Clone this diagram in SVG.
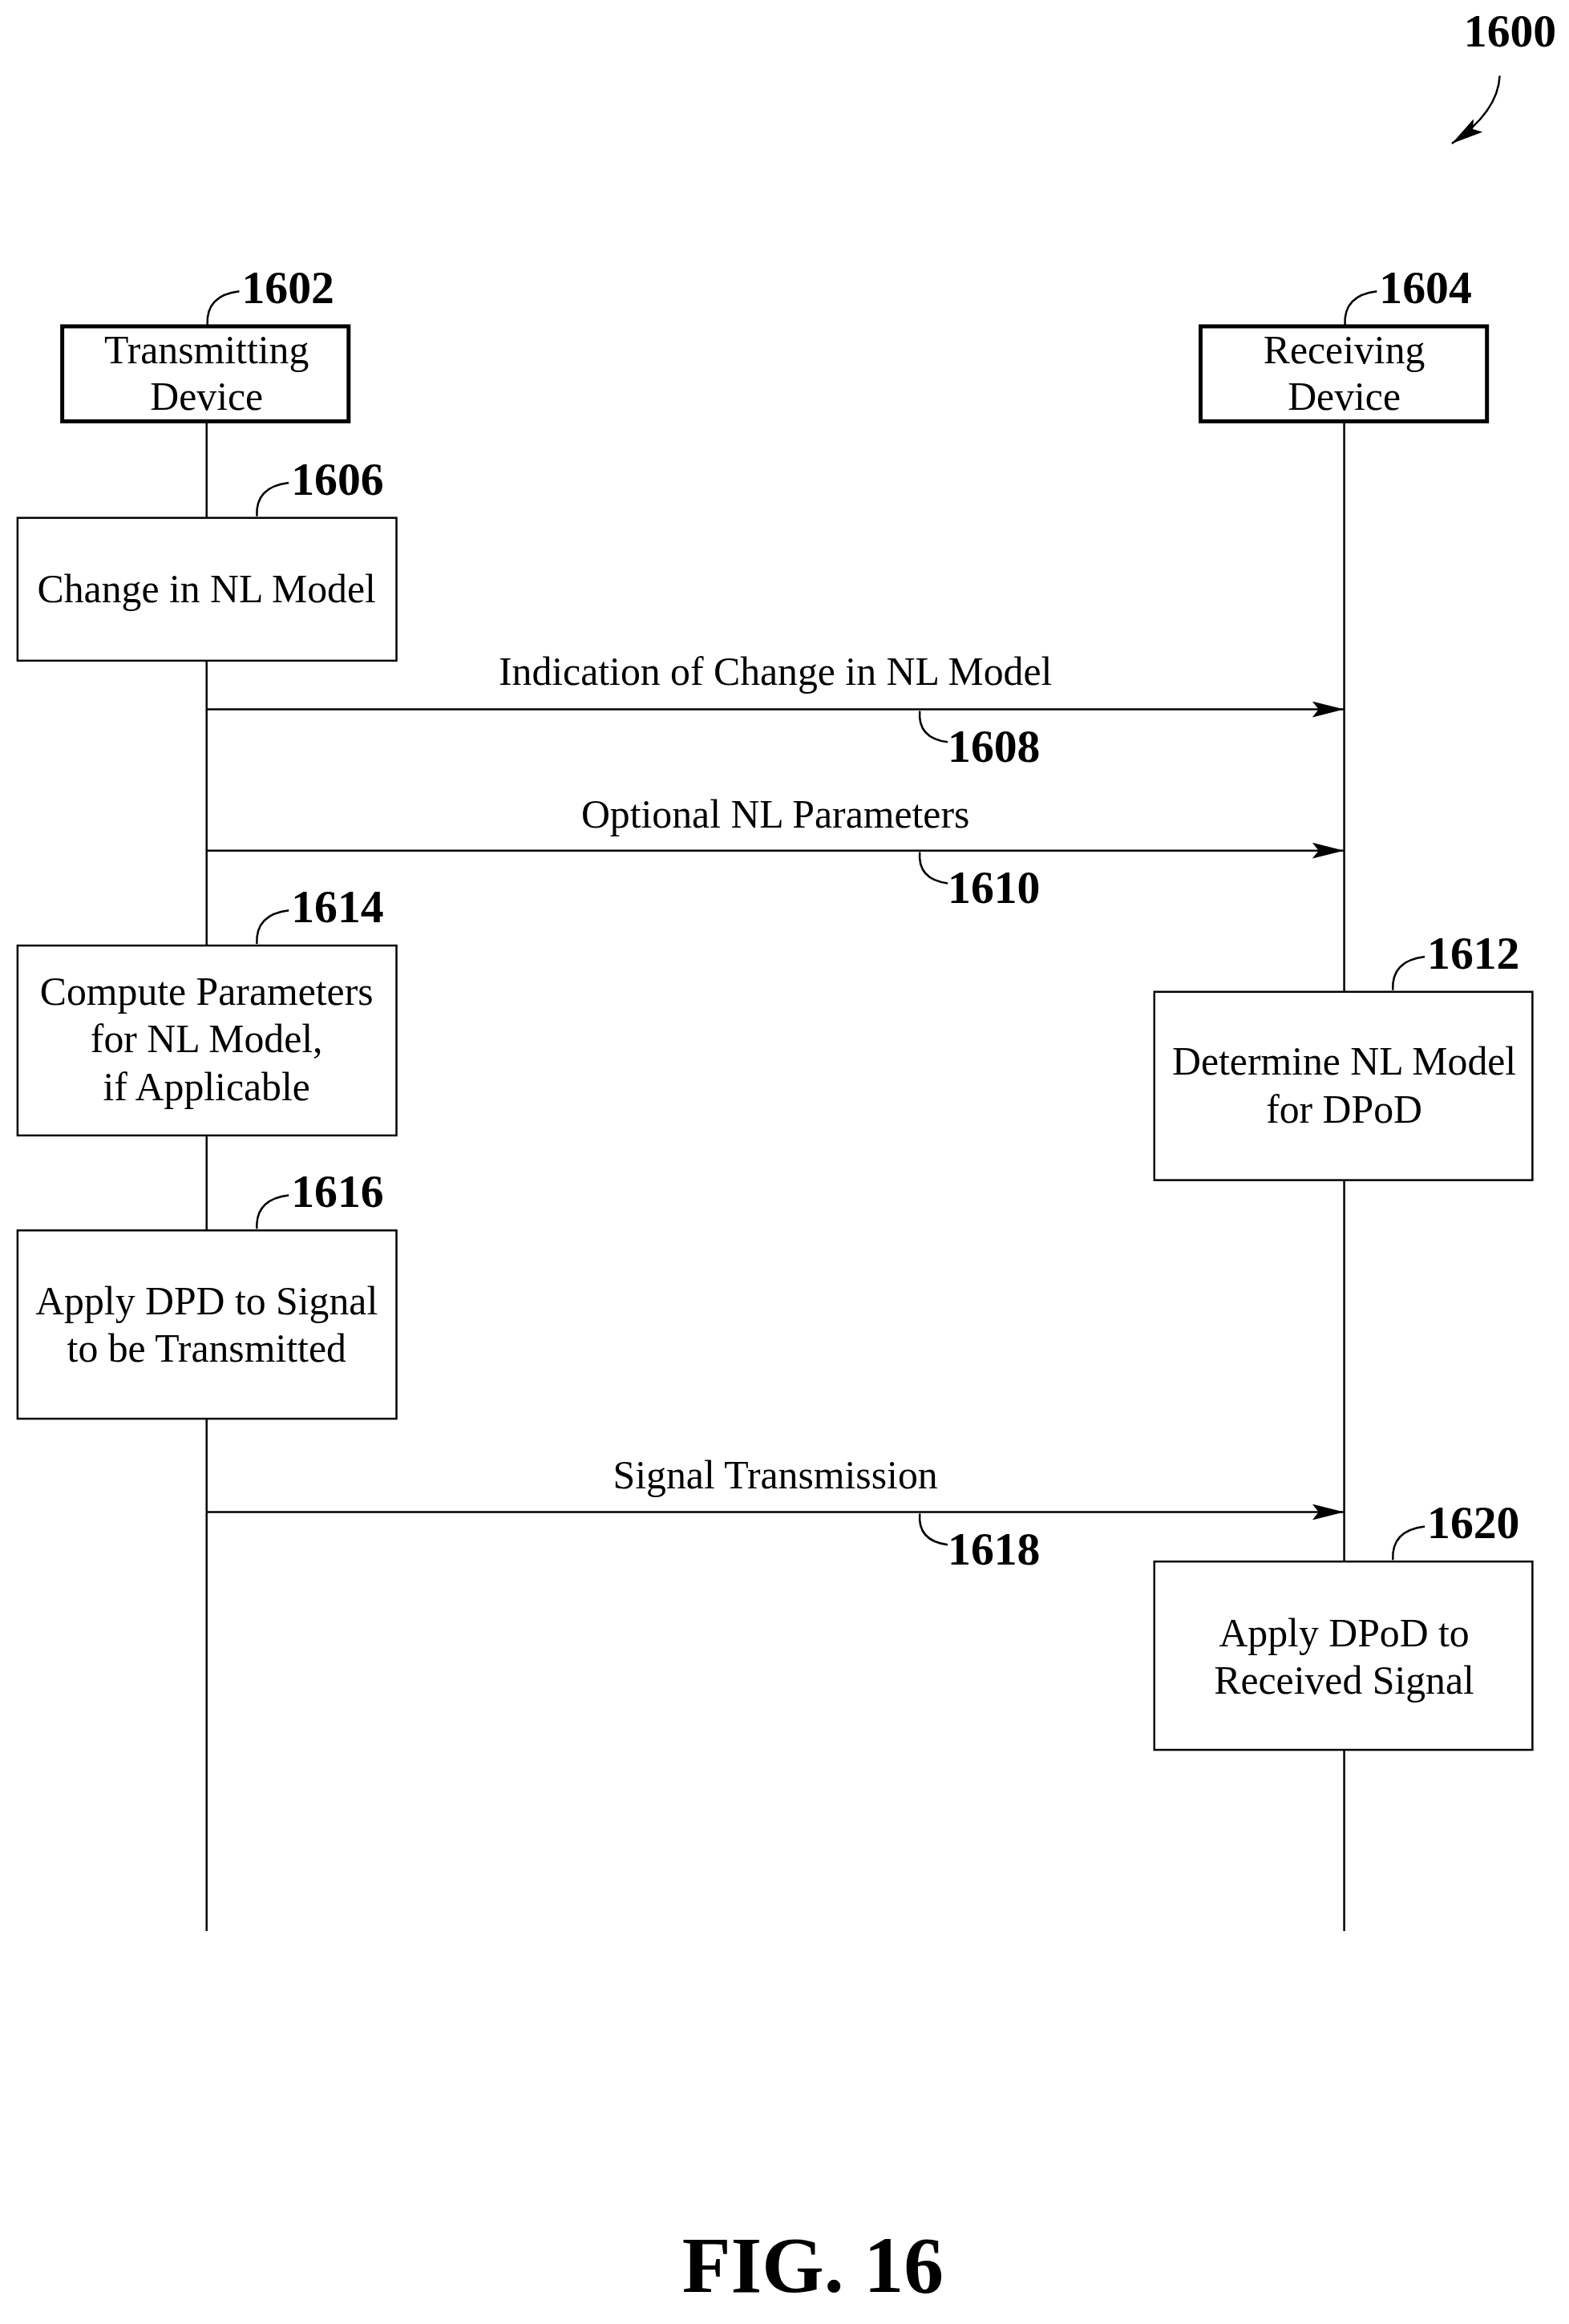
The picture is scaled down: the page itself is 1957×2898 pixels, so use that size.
<svg xmlns="http://www.w3.org/2000/svg" width="1957" height="2898" viewBox="0 0 1957 2898">
<defs>
<style>
.t{font-family:"Liberation Serif",serif;font-size:50px;fill:#000;text-anchor:middle}
.n{font-family:"Liberation Serif",serif;font-size:58px;font-weight:bold;fill:#000}
.box{fill:#fff;stroke:#000;stroke-width:2.5}
.hd{fill:#fff;stroke:#000;stroke-width:5}
.ln{fill:none;stroke:#000;stroke-width:2.5}
</style>
<marker id="ah2" markerWidth="40" markerHeight="20" refX="40" refY="10" orient="auto" markerUnits="userSpaceOnUse" viewBox="0 0 40 20"><path d="M0,0 L40,10 L0,20 L8,10 Z" fill="#000"/></marker>
</defs>
<rect width="1957" height="2898" fill="#fff"/>
<g transform="scale(0.995)">
<g id="connectors">
<line class="ln" x1="259" y1="528" x2="259" y2="2420"/>
<line class="ln" x1="1685" y1="528" x2="1685" y2="2420"/>
<line class="ln" x1="259" y1="889" x2="1685" y2="889" marker-end="url(#ah2)"/>
<line class="ln" x1="259" y1="1066" x2="1685" y2="1066" marker-end="url(#ah2)"/>
<line class="ln" x1="259" y1="1895" x2="1685" y2="1895" marker-end="url(#ah2)"/>
<text class="t" x="972" y="858">Indication of Change in NL Model</text>
<text class="t" x="972" y="1037">Optional NL Parameters</text>
<text class="t" x="972" y="1865">Signal Transmission</text>
<path class="ln" d="M1153,891 Q1150,925 1188,930"/><text class="n" x="1188" y="955">1608</text>
<path class="ln" d="M1153,1068 Q1150,1102 1188,1107"/><text class="n" x="1188" y="1132">1610</text>
<path class="ln" d="M1153,1897 Q1150,1931 1188,1936"/><text class="n" x="1188" y="1961">1618</text>
</g>
<g id="n1600"><text class="n" x="1835" y="58">1600</text><path class="ln" d="M1880,95 Q1878,140 1820,180" stroke-width="3" marker-end="url(#ah2)"/></g>
<g id="n1602"><rect class="hd" x="78" y="409" width="359" height="119"/><text class="t" x="259" y="455">Transmitting</text><text class="t" x="259" y="514">Device</text><path class="ln" d="M260,407 Q258,370 300,365"/><text class="n" x="303" y="380">1602</text></g>
<g id="n1604"><rect class="hd" x="1505" y="409" width="359" height="119"/><text class="t" x="1685" y="455">Receiving</text><text class="t" x="1685" y="514">Device</text><path class="ln" d="M1686,407 Q1684,370 1726,365"/><text class="n" x="1729" y="380">1604</text></g>
<g id="n1606"><rect class="box" x="22" y="649" width="475" height="179"/><text class="t" x="259" y="755">Change in NL Model</text><path class="ln" d="M322,647 Q320,610 362,605"/><text class="n" x="365" y="620">1606</text></g>
<g id="n1614"><rect class="box" x="22" y="1185" width="475" height="238"/><text class="t" x="259" y="1259">Compute Parameters</text><text class="t" x="259" y="1319">for NL Model,</text><text class="t" x="259" y="1379">if Applicable</text><path class="ln" d="M322,1183 Q320,1146 362,1141"/><text class="n" x="365" y="1156">1614</text></g>
<g id="n1612"><rect class="box" x="1447" y="1243" width="474" height="236"/><text class="t" x="1685" y="1347">Determine NL Model</text><text class="t" x="1685" y="1407">for DPoD</text><path class="ln" d="M1746,1241 Q1744,1204 1786,1199"/><text class="n" x="1789" y="1214">1612</text></g>
<g id="n1616"><rect class="box" x="22" y="1542" width="475" height="236"/><text class="t" x="259" y="1647">Apply DPD to Signal</text><text class="t" x="259" y="1707">to be Transmitted</text><path class="ln" d="M322,1540 Q320,1503 362,1498"/><text class="n" x="365" y="1513">1616</text></g>
<g id="n1620"><rect class="box" x="1447" y="1957" width="474" height="236"/><text class="t" x="1685" y="2063">Apply DPoD to</text><text class="t" x="1685" y="2123">Received Signal</text><path class="ln" d="M1746,1955 Q1744,1918 1786,1913"/><text class="n" x="1789" y="1928">1620</text></g>
<text class="n" x="1019" y="2872" style="font-size:100px;text-anchor:middle">FIG. 16</text>
</g>
</svg>
